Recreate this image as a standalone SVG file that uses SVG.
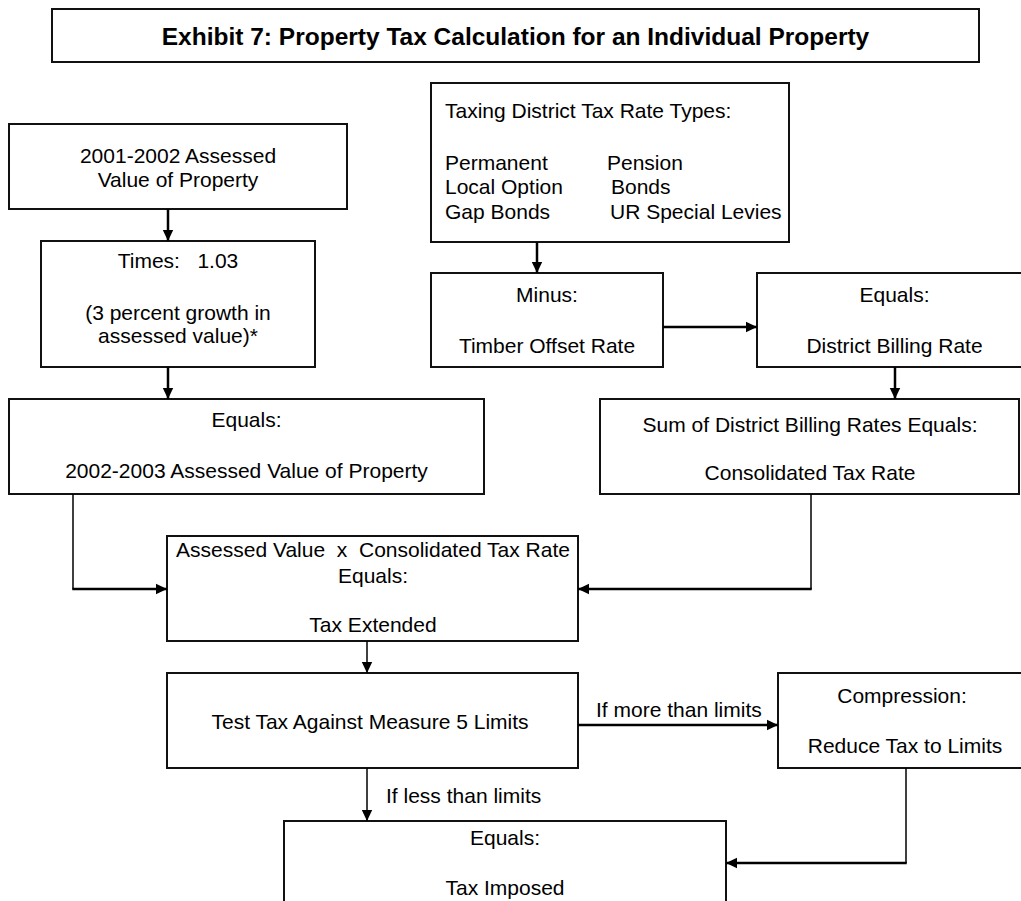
<svg xmlns="http://www.w3.org/2000/svg" width="1021" height="901" viewBox="0 0 1021 901">
<style>
  .box { fill: #fff; stroke: #111; stroke-width: 2; }
  .t { font-family: "Liberation Sans", Arial, sans-serif; font-size: 21px; fill: #000; white-space: pre; }
  .c { text-anchor: middle; }
  .title { font-family: "Liberation Sans", Arial, sans-serif; font-size: 24.5px; font-weight: bold; text-anchor: middle; fill: #000; }
  .ln { fill: none; stroke: #000; stroke-width: 2.5; }
  .thin { fill: none; stroke: #000; stroke-width: 1.5; }
</style>
<defs>
  <marker id="ah" markerUnits="userSpaceOnUse" markerWidth="12" markerHeight="12" viewBox="0 0 12 12" refX="11" refY="6" orient="auto">
    <path d="M0,0.8 L11,6 L0,11.2 Z" fill="#000"/>
  </marker>
</defs>
<rect width="1021" height="901" fill="#fff"/>

<g id="title">
  <rect class="box" x="52" y="9" width="927" height="53"/>
  <text class="title" x="515.5" y="45">Exhibit 7: Property Tax Calculation for an Individual Property</text>
</g>

<g id="assessed2001">
  <rect class="box" x="9" y="124" width="338" height="85"/>
  <text class="t c" x="178" y="163">2001-2002 Assessed</text>
  <text class="t c" x="178" y="187">Value of Property</text>
</g>

<g id="times">
  <rect class="box" x="41" y="241" width="274" height="126"/>
  <text class="t c" x="178" y="268">Times:   1.03</text>
  <text class="t c" x="178" y="320">(3 percent growth in</text>
  <text class="t c" x="178" y="343">assessed value)*</text>
</g>

<g id="assessed2002">
  <rect class="box" x="9" y="399" width="475" height="95"/>
  <text class="t c" x="246.5" y="427">Equals:</text>
  <text class="t c" x="246.5" y="478">2002-2003 Assessed Value of Property</text>
</g>

<g id="rateTypes">
  <rect class="box" x="431" y="83" width="358" height="159"/>
  <text class="t" x="445" y="118">Taxing District Tax Rate Types:</text>
  <text class="t" x="445" y="170">Permanent</text>
  <text class="t" x="445" y="194">Local Option</text>
  <text class="t" x="445" y="219">Gap Bonds</text>
  <text class="t" x="607" y="170">Pension</text>
  <text class="t" x="611" y="194">Bonds</text>
  <text class="t" x="610" y="219">UR Special Levies</text>
</g>

<g id="minus">
  <rect class="box" x="431" y="273" width="232" height="94"/>
  <text class="t c" x="547" y="302">Minus:</text>
  <text class="t c" x="547" y="353">Timber Offset Rate</text>
</g>

<g id="billingRate">
  <rect class="box" x="757" y="273" width="275" height="94"/>
  <text class="t c" x="894.5" y="302">Equals:</text>
  <text class="t c" x="894.5" y="353">District Billing Rate</text>
</g>

<g id="consolidated">
  <rect class="box" x="600" y="399" width="419" height="95"/>
  <text class="t c" x="810" y="432">Sum of District Billing Rates Equals:</text>
  <text class="t c" x="810" y="480">Consolidated Tax Rate</text>
</g>

<g id="taxExtended">
  <rect class="box" x="167" y="536" width="411" height="105"/>
  <text class="t c" x="373" y="557">Assessed Value  x  Consolidated Tax Rate</text>
  <text class="t c" x="373" y="583">Equals:</text>
  <text class="t c" x="373" y="632">Tax Extended</text>
</g>

<g id="testLimits">
  <rect class="box" x="167" y="673" width="411" height="95"/>
  <text class="t c" x="370" y="729">Test Tax Against Measure 5 Limits</text>
</g>

<g id="compression">
  <rect class="box" x="778" y="673" width="254" height="95"/>
  <text class="t c" x="902" y="703">Compression:</text>
  <text class="t c" x="905" y="753">Reduce Tax to Limits</text>
</g>

<g id="taxImposed">
  <rect class="box" x="284" y="821" width="442" height="100"/>
  <text class="t c" x="505" y="845">Equals:</text>
  <text class="t c" x="505" y="895">Tax Imposed</text>
</g>

<g id="connectors">
  <line class="ln" x1="168" y1="209" x2="168" y2="241" marker-end="url(#ah)"/>
  <line class="ln" x1="168" y1="367" x2="168" y2="399" marker-end="url(#ah)"/>
  <line class="ln" x1="537" y1="242" x2="537" y2="273" marker-end="url(#ah)"/>
  <line class="ln" x1="663" y1="327" x2="757" y2="327" marker-end="url(#ah)"/>
  <line class="ln" x1="895" y1="367" x2="895" y2="399" marker-end="url(#ah)"/>
  <line class="thin" x1="73" y1="494" x2="73" y2="589"/>
  <line class="ln" x1="72.25" y1="589" x2="167" y2="589" marker-end="url(#ah)"/>
  <line class="thin" x1="811" y1="494" x2="811" y2="589"/>
  <line class="ln" x1="811.75" y1="589" x2="578" y2="589" marker-end="url(#ah)"/>
  <line class="thin" x1="367" y1="641" x2="367" y2="673" marker-end="url(#ah)"/>
  <line class="ln" x1="578" y1="725" x2="778" y2="725" marker-end="url(#ah)"/>
  <line class="thin" x1="367" y1="768" x2="367" y2="821" marker-end="url(#ah)"/>
  <line class="thin" x1="906" y1="768" x2="906" y2="863"/>
  <line class="ln" x1="906.75" y1="863" x2="726" y2="863" marker-end="url(#ah)"/>
  <text class="t" x="596" y="717">If more than limits</text>
  <text class="t" x="386" y="803">If less than limits</text>
</g>
</svg>
